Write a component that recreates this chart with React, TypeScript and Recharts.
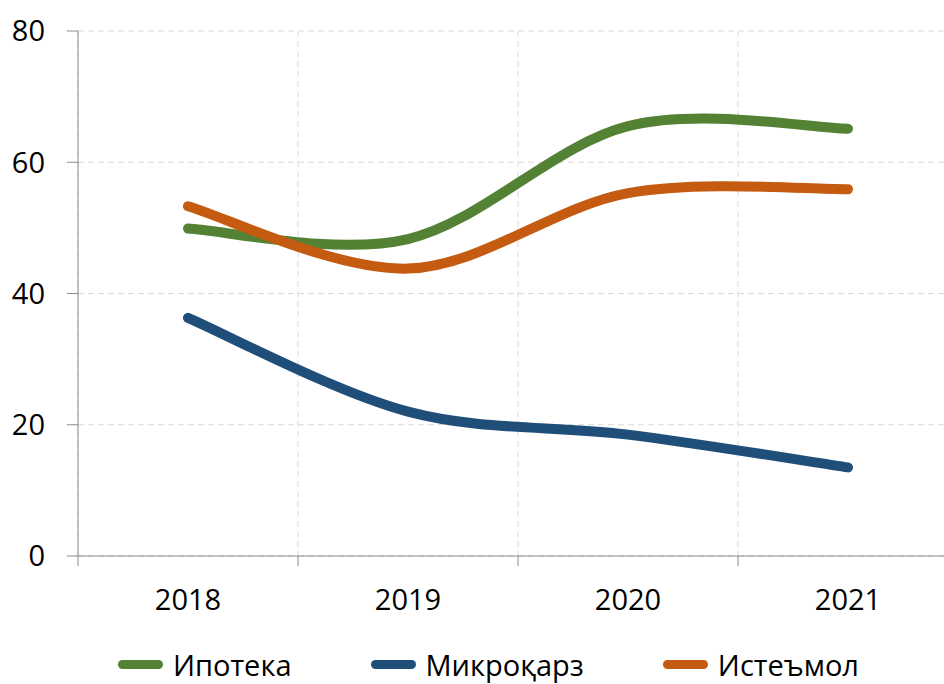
import { CartesianGrid, Legend, Line, LineChart, XAxis, YAxis } from "recharts";

const years = ["2018", "2019", "2020", "2021"];
const ipoteka = [49.9, 48.3, 65.5, 65.1];
const mikroqarz = [36.3, 22.0, 18.5, 13.5];
const isteymol = [53.3, 43.8, 55.3, 55.9];
const yTicks = [0, 20, 40, 60, 80];
const boundaryTicks = [0, 1, 2, 3, 4];

const series = [
  { key: "ipoteka", name: "Ипотека", color: "#548235", values: ipoteka },
  { key: "mikroqarz", name: "Микроқарз", color: "#1f4e79", values: mikroqarz },
  { key: "isteymol", name: "Истеъмол", color: "#c55a11", values: isteymol },
];

const data = years.map((y, i) => {
  const row: Record<string, number | string> = { year: y, pos: i + 0.5 };
  series.forEach((s) => (row[s.key] = s.values[i]));
  return row;
});

// Excel-style smoothed line (Catmull-Rom, control points at 1/6)
const excelSmooth = (context: any) => {
  let pts: [number, number][] = [];
  return {
    areaStart() {},
    areaEnd() {},
    lineStart() {
      pts = [];
    },
    lineEnd() {
      if (!pts.length) return;
      context.moveTo(pts[0][0], pts[0][1]);
      for (let i = 0; i < pts.length - 1; i++) {
        const p0 = pts[i - 1] || pts[i];
        const p1 = pts[i];
        const p2 = pts[i + 1];
        const p3 = pts[i + 2] || p2;
        context.bezierCurveTo(
          p1[0] + (p2[0] - p0[0]) / 6,
          p1[1] + (p2[1] - p0[1]) / 6,
          p2[0] - (p3[0] - p1[0]) / 6,
          p2[1] - (p3[1] - p1[1]) / 6,
          p2[0],
          p2[1]
        );
      }
    },
    point(x: number, y: number) {
      pts.push([x, y]);
    },
  };
};

const FONT = "'Open Sans', sans-serif";

const YearTick = (props: any) => {
  const { x, y, payload } = props;
  const label = years[payload.value];
  if (!label) return null;
  return (
    <text x={x + 110} y={y} dy={42} textAnchor="middle" fill="#000" fontSize={29} fontFamily={FONT}>
      {label}
    </text>
  );
};

// keep the series order (recharts would reorder the payload)
const LegendContent = () => (
  <div style={{ display: "flex", alignItems: "center", height: 40, paddingLeft: 118 }}>
    {series.map((s) => (
      <div key={s.key} style={{ display: "flex", alignItems: "center", marginRight: 79 }}>
        <div style={{ width: 45, height: 9, borderRadius: 5, background: s.color, marginRight: 10 }} />
        <span style={{ fontFamily: FONT, fontSize: 29, color: "#000" }}>{s.name}</span>
      </div>
    ))}
  </div>
);

export default function App() {
  return (
    <div style={{ position: "absolute", left: 0, top: 0, width: 944, height: 684, overflow: "hidden", background: "#fff" }}>
      <LineChart width={960} height={684} data={data} margin={{ top: 31, right: 2, left: 0, bottom: 0 }}>
        <CartesianGrid stroke="#d9d9d9" strokeDasharray="6 4" />
        <XAxis
          dataKey="pos"
          type="number"
          domain={[0, 4]}
          ticks={boundaryTicks}
          interval={0}
          height={88}
          stroke="#8c8c8c"
          tickSize={10}
          tick={<YearTick />}
        />
        <YAxis
          domain={[0, 80]}
          ticks={yTicks}
          width={78}
          stroke="#8c8c8c"
          tickSize={11}
          tickMargin={22}
          tick={{ fill: "#000", fontSize: 29, fontFamily: FONT }}
        />
        <Legend verticalAlign="bottom" wrapperStyle={{ left: 0, width: 944, bottom: 0 }} content={<LegendContent />} />
        {series.map((s) => (
          <Line
            key={s.key}
            dataKey={s.key}
            name={s.name}
            stroke={s.color}
            strokeWidth={10}
            strokeLinecap="round"
            type={excelSmooth as any}
            dot={false}
            isAnimationActive={false}
          />
        ))}
      </LineChart>
    </div>
  );
}
